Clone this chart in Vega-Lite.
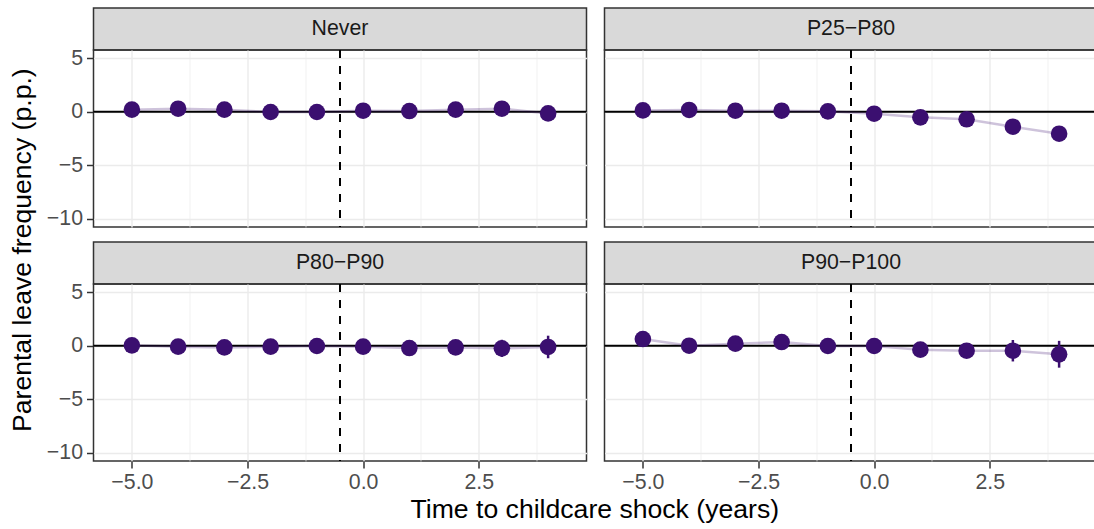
{
  "$schema": "https://vega.github.io/schema/vega-lite/v6.json",
  "background": "white",
  "padding": {"left": 9.5, "top": 7, "right": 0, "bottom": 0},
  "config": {
    "font": "Liberation Sans",
    "view": {"stroke": "#333333", "strokeWidth": 1.5},
    "concat": {"spacing": 14},
    "axis": {
      "domain": false,
      "grid": true,
      "gridColor": "#ebebeb",
      "tickColor": "#333333",
      "tickWidth": 1.5,
      "tickSize": 7,
      "labelColor": "#4d4d4d",
      "labelFontSize": 21.3,
      "labelFont": "Liberation Sans"
    },
    "title": {"font": "Liberation Sans", "fontWeight": "normal", "color": "black", "fontSize": 26.6}
  },
  "datasets": {
    "est": [
      {"group": "Never", "t": -5, "est": 0.19, "lo": -0.2, "hi": 0.58},
      {"group": "Never", "t": -4, "est": 0.28, "lo": -0.1, "hi": 0.66},
      {"group": "Never", "t": -3, "est": 0.19, "lo": -0.2, "hi": 0.58},
      {"group": "Never", "t": -2, "est": -0.03, "lo": -0.4, "hi": 0.34},
      {"group": "Never", "t": -1, "est": -0.03, "lo": -0.4, "hi": 0.34},
      {"group": "Never", "t": 0, "est": 0.09, "lo": -0.3, "hi": 0.48},
      {"group": "Never", "t": 1, "est": 0.06, "lo": -0.35, "hi": 0.47},
      {"group": "Never", "t": 2, "est": 0.19, "lo": -0.25, "hi": 0.63},
      {"group": "Never", "t": 3, "est": 0.28, "lo": -0.2, "hi": 0.76},
      {"group": "Never", "t": 4, "est": -0.16, "lo": -0.7, "hi": 0.38},
      {"group": "P25\u2212P80", "t": -5, "est": 0.12, "lo": -0.2, "hi": 0.44},
      {"group": "P25\u2212P80", "t": -4, "est": 0.16, "lo": -0.15, "hi": 0.47},
      {"group": "P25\u2212P80", "t": -3, "est": 0.09, "lo": -0.2, "hi": 0.38},
      {"group": "P25\u2212P80", "t": -2, "est": 0.09, "lo": -0.2, "hi": 0.38},
      {"group": "P25\u2212P80", "t": -1, "est": 0.03, "lo": -0.25, "hi": 0.31},
      {"group": "P25\u2212P80", "t": 0, "est": -0.19, "lo": -0.5, "hi": 0.12},
      {"group": "P25\u2212P80", "t": 1, "est": -0.53, "lo": -0.9, "hi": -0.16},
      {"group": "P25\u2212P80", "t": 2, "est": -0.71, "lo": -1.1, "hi": -0.32},
      {"group": "P25\u2212P80", "t": 3, "est": -1.4, "lo": -1.85, "hi": -0.95},
      {"group": "P25\u2212P80", "t": 4, "est": -2.05, "lo": -2.6, "hi": -1.5},
      {"group": "P80\u2212P90", "t": -5, "est": 0.03, "lo": -0.35, "hi": 0.41},
      {"group": "P80\u2212P90", "t": -4, "est": -0.09, "lo": -0.45, "hi": 0.27},
      {"group": "P80\u2212P90", "t": -3, "est": -0.16, "lo": -0.55, "hi": 0.23},
      {"group": "P80\u2212P90", "t": -2, "est": -0.09, "lo": -0.5, "hi": 0.32},
      {"group": "P80\u2212P90", "t": -1, "est": -0.03, "lo": -0.45, "hi": 0.39},
      {"group": "P80\u2212P90", "t": 0, "est": -0.09, "lo": -0.5, "hi": 0.32},
      {"group": "P80\u2212P90", "t": 1, "est": -0.22, "lo": -0.7, "hi": 0.26},
      {"group": "P80\u2212P90", "t": 2, "est": -0.16, "lo": -0.7, "hi": 0.38},
      {"group": "P80\u2212P90", "t": 3, "est": -0.25, "lo": -1.05, "hi": 0.55},
      {"group": "P80\u2212P90", "t": 4, "est": -0.12, "lo": -1.17, "hi": 0.93},
      {"group": "P90\u2212P100", "t": -5, "est": 0.62, "lo": 0.1, "hi": 1.14},
      {"group": "P90\u2212P100", "t": -4, "est": 0.0, "lo": -0.45, "hi": 0.45},
      {"group": "P90\u2212P100", "t": -3, "est": 0.19, "lo": -0.3, "hi": 0.68},
      {"group": "P90\u2212P100", "t": -2, "est": 0.34, "lo": -0.2, "hi": 0.88},
      {"group": "P90\u2212P100", "t": -1, "est": -0.03, "lo": -0.5, "hi": 0.44},
      {"group": "P90\u2212P100", "t": 0, "est": -0.03, "lo": -0.55, "hi": 0.49},
      {"group": "P90\u2212P100", "t": 1, "est": -0.37, "lo": -0.95, "hi": 0.21},
      {"group": "P90\u2212P100", "t": 2, "est": -0.47, "lo": -1.1, "hi": 0.16},
      {"group": "P90\u2212P100", "t": 3, "est": -0.47, "lo": -1.47, "hi": 0.53},
      {"group": "P90\u2212P100", "t": 4, "est": -0.81, "lo": -2.05, "hi": 0.45}
    ]
  },
  "title": {"text": "Time to childcare shock (years)", "orient": "bottom", "anchor": "middle", "offset": 4, "dx": 40},
  "vconcat": [
    {
      "title": {"text": "Parental leave frequency (p.p.)", "orient": "left", "anchor": "middle", "offset": 8.7},
      "spacing": 10,
      "vconcat": [
        {
          "hconcat": [
            {
              "spacing": 0,
              "bounds": "flush",
              "vconcat": [
                {
                  "width": 493, "height": 42,
                  "view": {"fill": "#d9d9d9", "stroke": "#333333", "strokeWidth": 1.5},
                  "data": {"values": [{"label": "Never"}]},
                  "mark": {"type": "text", "fontSize": 21.3, "color": "#1a1a1a", "baseline": "middle"},
                  "encoding": {"text": {"field": "label"}}
                },
                {
                  "width": 493, "height": 177,
                  "data": {"name": "est"},
                  "transform": [{"filter": "datum.group === 'Never'"}],
                  "layer": [
                    {
                      "data": {"values": [{}]},
                      "mark": {"type": "rule", "color": "black", "strokeWidth": 2},
                      "encoding": {
                        "y": {"datum": 0, "type": "quantitative", "scale": {"domain": [-10.75, 5.75], "nice": false, "zero": false},
                          "axis": {"title": null, "grid": true, "values": [5, 2.5, 0, -2.5, -5, -7.5, -10], "format": "d", "labelPadding": 4,
                            "labelExpr": "datum.value % 5 === 0 ? datum.label : ''",
                            "tickOpacity": {"condition": {"test": "datum.value % 5 === 0", "value": 1}, "value": 0},
                            "gridWidth": {"condition": {"test": "datum.value % 5 === 0", "value": 1.4}, "value": 0.7}}}
                      }
                    },
                    {
                      "data": {"values": [{}]},
                      "mark": {"type": "rule", "color": "black", "strokeWidth": 2, "strokeDash": [8, 8]},
                      "encoding": {
                        "x": {"datum": -0.5, "type": "quantitative", "scale": {"domain": [-5.83, 4.83], "nice": false, "zero": false},
                          "axis": {"title": null, "grid": true, "values": [-5, -3.75, -2.5, -1.25, 0, 1.25, 2.5, 3.75], "labels": false, "ticks": false,
                            "gridWidth": {"condition": {"test": "datum.value % 2.5 === 0", "value": 1.4}, "value": 0.7}}}
                      }
                    },
                    {
                      "mark": {"type": "line", "color": "#3b0f70", "opacity": 0.25, "strokeWidth": 2.5},
                      "encoding": {"x": {"field": "t", "type": "quantitative"}, "y": {"field": "est", "type": "quantitative"}}
                    },
                    {
                      "mark": {"type": "rule", "color": "#3b0f70", "strokeWidth": 2.5},
                      "encoding": {"x": {"field": "t", "type": "quantitative"}, "y": {"field": "lo", "type": "quantitative"}, "y2": {"field": "hi"}}
                    },
                    {
                      "mark": {"type": "circle", "size": 275, "color": "#3b0f70", "opacity": 1},
                      "encoding": {"x": {"field": "t", "type": "quantitative"}, "y": {"field": "est", "type": "quantitative"}}
                    }
                  ]
                }
              ]
            },
            {
              "spacing": 0,
              "bounds": "flush",
              "vconcat": [
                {
                  "width": 493, "height": 42,
                  "view": {"fill": "#d9d9d9", "stroke": "#333333", "strokeWidth": 1.5},
                  "data": {"values": [{"label": "P25\u2212P80"}]},
                  "mark": {"type": "text", "fontSize": 21.3, "color": "#1a1a1a", "baseline": "middle"},
                  "encoding": {"text": {"field": "label"}}
                },
                {
                  "width": 493, "height": 177,
                  "data": {"name": "est"},
                  "transform": [{"filter": "datum.group === 'P25\u2212P80'"}],
                  "layer": [
                    {
                      "data": {"values": [{}]},
                      "mark": {"type": "rule", "color": "black", "strokeWidth": 2},
                      "encoding": {
                        "y": {"datum": 0, "type": "quantitative", "scale": {"domain": [-10.75, 5.75], "nice": false, "zero": false},
                          "axis": {"title": null, "grid": true, "values": [5, 2.5, 0, -2.5, -5, -7.5, -10], "labels": false, "ticks": false,
                            "gridWidth": {"condition": {"test": "datum.value % 5 === 0", "value": 1.4}, "value": 0.7}}}
                      }
                    },
                    {
                      "data": {"values": [{}]},
                      "mark": {"type": "rule", "color": "black", "strokeWidth": 2, "strokeDash": [8, 8]},
                      "encoding": {
                        "x": {"datum": -0.5, "type": "quantitative", "scale": {"domain": [-5.83, 4.83], "nice": false, "zero": false},
                          "axis": {"title": null, "grid": true, "values": [-5, -3.75, -2.5, -1.25, 0, 1.25, 2.5, 3.75], "labels": false, "ticks": false,
                            "gridWidth": {"condition": {"test": "datum.value % 2.5 === 0", "value": 1.4}, "value": 0.7}}}
                      }
                    },
                    {
                      "mark": {"type": "line", "color": "#3b0f70", "opacity": 0.25, "strokeWidth": 2.5},
                      "encoding": {"x": {"field": "t", "type": "quantitative"}, "y": {"field": "est", "type": "quantitative"}}
                    },
                    {
                      "mark": {"type": "rule", "color": "#3b0f70", "strokeWidth": 2.5},
                      "encoding": {"x": {"field": "t", "type": "quantitative"}, "y": {"field": "lo", "type": "quantitative"}, "y2": {"field": "hi"}}
                    },
                    {
                      "mark": {"type": "circle", "size": 275, "color": "#3b0f70", "opacity": 1},
                      "encoding": {"x": {"field": "t", "type": "quantitative"}, "y": {"field": "est", "type": "quantitative"}}
                    }
                  ]
                }
              ]
            }
          ]
        },
        {
          "hconcat": [
            {
              "spacing": 0,
              "bounds": "flush",
              "vconcat": [
                {
                  "width": 493, "height": 42,
                  "view": {"fill": "#d9d9d9", "stroke": "#333333", "strokeWidth": 1.5},
                  "data": {"values": [{"label": "P80\u2212P90"}]},
                  "mark": {"type": "text", "fontSize": 21.3, "color": "#1a1a1a", "baseline": "middle"},
                  "encoding": {"text": {"field": "label"}}
                },
                {
                  "width": 493, "height": 177,
                  "data": {"name": "est"},
                  "transform": [{"filter": "datum.group === 'P80\u2212P90'"}],
                  "layer": [
                    {
                      "data": {"values": [{}]},
                      "mark": {"type": "rule", "color": "black", "strokeWidth": 2},
                      "encoding": {
                        "y": {"datum": 0, "type": "quantitative", "scale": {"domain": [-10.75, 5.75], "nice": false, "zero": false},
                          "axis": {"title": null, "grid": true, "values": [5, 2.5, 0, -2.5, -5, -7.5, -10], "format": "d", "labelPadding": 4,
                            "labelExpr": "datum.value % 5 === 0 ? datum.label : ''",
                            "tickOpacity": {"condition": {"test": "datum.value % 5 === 0", "value": 1}, "value": 0},
                            "gridWidth": {"condition": {"test": "datum.value % 5 === 0", "value": 1.4}, "value": 0.7}}}
                      }
                    },
                    {
                      "data": {"values": [{}]},
                      "mark": {"type": "rule", "color": "black", "strokeWidth": 2, "strokeDash": [8, 8]},
                      "encoding": {
                        "x": {"datum": -0.5, "type": "quantitative", "scale": {"domain": [-5.83, 4.83], "nice": false, "zero": false},
                          "axis": {"title": null, "grid": true, "values": [-5, -3.75, -2.5, -1.25, 0, 1.25, 2.5, 3.75], "format": ".1f", "labelPadding": 3,
                            "labelExpr": "datum.value % 2.5 === 0 ? datum.label : ''",
                            "tickOpacity": {"condition": {"test": "datum.value % 2.5 === 0", "value": 1}, "value": 0},
                            "gridWidth": {"condition": {"test": "datum.value % 2.5 === 0", "value": 1.4}, "value": 0.7}}}
                      }
                    },
                    {
                      "mark": {"type": "line", "color": "#3b0f70", "opacity": 0.25, "strokeWidth": 2.5},
                      "encoding": {"x": {"field": "t", "type": "quantitative"}, "y": {"field": "est", "type": "quantitative"}}
                    },
                    {
                      "mark": {"type": "rule", "color": "#3b0f70", "strokeWidth": 2.5},
                      "encoding": {"x": {"field": "t", "type": "quantitative"}, "y": {"field": "lo", "type": "quantitative"}, "y2": {"field": "hi"}}
                    },
                    {
                      "mark": {"type": "circle", "size": 275, "color": "#3b0f70", "opacity": 1},
                      "encoding": {"x": {"field": "t", "type": "quantitative"}, "y": {"field": "est", "type": "quantitative"}}
                    }
                  ]
                }
              ]
            },
            {
              "spacing": 0,
              "bounds": "flush",
              "vconcat": [
                {
                  "width": 493, "height": 42,
                  "view": {"fill": "#d9d9d9", "stroke": "#333333", "strokeWidth": 1.5},
                  "data": {"values": [{"label": "P90\u2212P100"}]},
                  "mark": {"type": "text", "fontSize": 21.3, "color": "#1a1a1a", "baseline": "middle"},
                  "encoding": {"text": {"field": "label"}}
                },
                {
                  "width": 493, "height": 177,
                  "data": {"name": "est"},
                  "transform": [{"filter": "datum.group === 'P90\u2212P100'"}],
                  "layer": [
                    {
                      "data": {"values": [{}]},
                      "mark": {"type": "rule", "color": "black", "strokeWidth": 2},
                      "encoding": {
                        "y": {"datum": 0, "type": "quantitative", "scale": {"domain": [-10.75, 5.75], "nice": false, "zero": false},
                          "axis": {"title": null, "grid": true, "values": [5, 2.5, 0, -2.5, -5, -7.5, -10], "labels": false, "ticks": false,
                            "gridWidth": {"condition": {"test": "datum.value % 5 === 0", "value": 1.4}, "value": 0.7}}}
                      }
                    },
                    {
                      "data": {"values": [{}]},
                      "mark": {"type": "rule", "color": "black", "strokeWidth": 2, "strokeDash": [8, 8]},
                      "encoding": {
                        "x": {"datum": -0.5, "type": "quantitative", "scale": {"domain": [-5.83, 4.83], "nice": false, "zero": false},
                          "axis": {"title": null, "grid": true, "values": [-5, -3.75, -2.5, -1.25, 0, 1.25, 2.5, 3.75], "format": ".1f", "labelPadding": 3,
                            "labelExpr": "datum.value % 2.5 === 0 ? datum.label : ''",
                            "tickOpacity": {"condition": {"test": "datum.value % 2.5 === 0", "value": 1}, "value": 0},
                            "gridWidth": {"condition": {"test": "datum.value % 2.5 === 0", "value": 1.4}, "value": 0.7}}}
                      }
                    },
                    {
                      "mark": {"type": "line", "color": "#3b0f70", "opacity": 0.25, "strokeWidth": 2.5},
                      "encoding": {"x": {"field": "t", "type": "quantitative"}, "y": {"field": "est", "type": "quantitative"}}
                    },
                    {
                      "mark": {"type": "rule", "color": "#3b0f70", "strokeWidth": 2.5},
                      "encoding": {"x": {"field": "t", "type": "quantitative"}, "y": {"field": "lo", "type": "quantitative"}, "y2": {"field": "hi"}}
                    },
                    {
                      "mark": {"type": "circle", "size": 275, "color": "#3b0f70", "opacity": 1},
                      "encoding": {"x": {"field": "t", "type": "quantitative"}, "y": {"field": "est", "type": "quantitative"}}
                    }
                  ]
                }
              ]
            }
          ]
        }
      ]
    }
  ]
}
